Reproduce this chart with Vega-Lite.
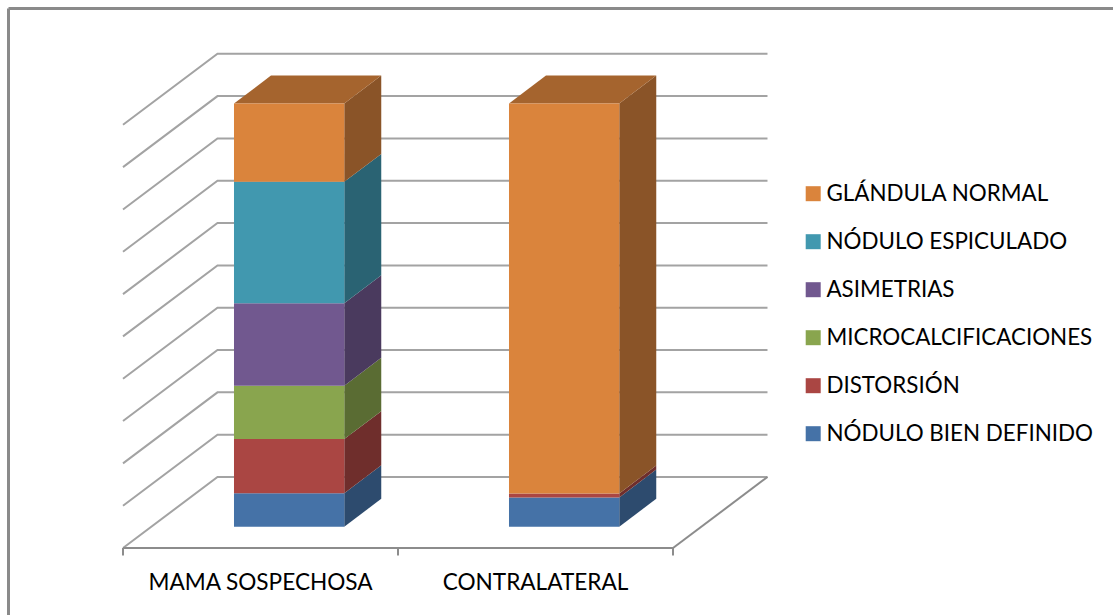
{
  "$schema": "https://vega.github.io/schema/vega-lite/v6.json",
  "width": 1105,
  "height": 607,
  "autosize": "none",
  "padding": {"left": 8, "top": 8, "right": 0, "bottom": 0},
  "background": "white",
  "config": {
    "view": {"stroke": null},
    "font": "Lato",
    "axis": {"labels": false, "ticks": false, "grid": false, "domain": true, "domainColor": "#8a8a8a", "domainWidth": 3}
  },
  "datasets": {
    "barras": [
      {"categoria": "MAMA SOSPECHOSA", "pos": 0, "orden": 1, "serie": "NÓDULO BIEN DEFINIDO", "valor": 7.9},
      {"categoria": "MAMA SOSPECHOSA", "pos": 0, "orden": 2, "serie": "DISTORSIÓN", "valor": 12.8},
      {"categoria": "MAMA SOSPECHOSA", "pos": 0, "orden": 3, "serie": "MICROCALCIFICACIONES", "valor": 12.6},
      {"categoria": "MAMA SOSPECHOSA", "pos": 0, "orden": 4, "serie": "ASIMETRIAS", "valor": 19.5},
      {"categoria": "MAMA SOSPECHOSA", "pos": 0, "orden": 5, "serie": "NÓDULO ESPICULADO", "valor": 28.7},
      {"categoria": "MAMA SOSPECHOSA", "pos": 0, "orden": 6, "serie": "GLÁNDULA NORMAL", "valor": 18.5},
      {"categoria": "CONTRALATERAL", "pos": 1, "orden": 1, "serie": "NÓDULO BIEN DEFINIDO", "valor": 6.9},
      {"categoria": "CONTRALATERAL", "pos": 1, "orden": 2, "serie": "DISTORSIÓN", "valor": 0.95},
      {"categoria": "CONTRALATERAL", "pos": 1, "orden": 6, "serie": "GLÁNDULA NORMAL", "valor": 92.15}
    ],
    "rejilla": [
      {"nivel": 0}, {"nivel": 10}, {"nivel": 20}, {"nivel": 30}, {"nivel": 40}, {"nivel": 50},
      {"nivel": 60}, {"nivel": 70}, {"nivel": 80}, {"nivel": 90}, {"nivel": 100}
    ],
    "marcas": [{"pos": 0}, {"pos": 1}, {"pos": 2}],
    "categorias": [
      {"categoria": "MAMA SOSPECHOSA", "pos": 0},
      {"categoria": "CONTRALATERAL", "pos": 1}
    ]
  },
  "resolve": {"scale": {"color": "independent"}},
  "layer": [
    {
      "description": "Walls: each gridline runs along the left wall and then across the back wall",
      "data": {"name": "rejilla"},
      "transform": [
        {"calculate": "[0,1,2]", "as": "e"},
        {"flatten": ["e"]},
        {"calculate": "datum.e === 0 ? 0 : datum.e === 1 ? 0.3436 : 2.3436", "as": "px"},
        {"calculate": "datum.nivel - 5.03 + (datum.e === 0 ? 0 : 16.78)", "as": "py"}
      ],
      "mark": {"type": "line", "color": "#a3a3a3", "strokeWidth": 2, "clip": false},
      "encoding": {
        "x": {"field": "px", "type": "quantitative", "title": null, "axis": {"orient": "top"}, "scale": {"domain": [-0.4182, 3.6], "nice": false, "zero": false}},
        "y": {"field": "py", "type": "quantitative", "title": null, "axis": {"orient": "left"}, "scale": {"domain": [-20.86, 122.57], "nice": false, "zero": false}},
        "detail": {"field": "nivel"},
        "order": {"field": "e"}
      }
    },
    {
      "description": "Front edge of the floor",
      "data": {"name": "marcas"},
      "transform": [{"filter": "datum.pos === 0"}, {"calculate": "datum.pos + 2", "as": "fin"}, {"calculate": "-5.03", "as": "suelo"}],
      "mark": {"type": "rule", "color": "#8c8c8c", "strokeWidth": 2},
      "encoding": {
        "x": {"field": "pos", "type": "quantitative", "title": null, "axis": {"orient": "top"}, "scale": {"domain": [-0.4182, 3.6], "nice": false, "zero": false}},
        "x2": {"field": "fin"},
        "y": {"field": "suelo", "type": "quantitative", "title": null, "axis": {"orient": "left"}, "scale": {"domain": [-20.86, 122.57], "nice": false, "zero": false}}
      }
    },
    {
      "description": "Right edge of the floor, front corner to back corner",
      "data": {"name": "marcas"},
      "transform": [
        {"filter": "datum.pos === 2"},
        {"calculate": "datum.pos + 0.3436", "as": "fin"},
        {"calculate": "-5.03", "as": "suelo"},
        {"calculate": "11.75", "as": "fondo"}
      ],
      "mark": {"type": "rule", "color": "#8c8c8c", "strokeWidth": 2},
      "encoding": {
        "x": {"field": "pos", "type": "quantitative", "title": null, "axis": {"orient": "top"}, "scale": {"domain": [-0.4182, 3.6], "nice": false, "zero": false}},
        "x2": {"field": "fin"},
        "y": {"field": "suelo", "type": "quantitative", "title": null, "axis": {"orient": "left"}, "scale": {"domain": [-20.86, 122.57], "nice": false, "zero": false}},
        "y2": {"field": "fondo"}
      }
    },
    {
      "description": "Category tick marks under the floor",
      "data": {"name": "marcas"},
      "transform": [{"calculate": "-5.03", "as": "suelo"}, {"calculate": "-6.8", "as": "pie"}],
      "mark": {"type": "rule", "color": "#8c8c8c", "strokeWidth": 2},
      "encoding": {
        "x": {"field": "pos", "type": "quantitative", "title": null, "axis": {"orient": "top"}, "scale": {"domain": [-0.4182, 3.6], "nice": false, "zero": false}},
        "y": {"field": "suelo", "type": "quantitative", "title": null, "axis": {"orient": "left"}, "scale": {"domain": [-20.86, 122.57], "nice": false, "zero": false}},
        "y2": {"field": "pie"}
      }
    },
    {
      "description": "Right-hand side faces of the stacked columns",
      "data": {"name": "barras"},
      "transform": [
        {"stack": "valor", "groupby": ["categoria"], "sort": [{"field": "orden", "order": "ascending"}], "as": ["v0", "v1"]},
        {"calculate": "[0,1]", "as": "e"},
        {"flatten": ["e"]},
        {"calculate": "datum.pos + 0.8046 + datum.e * 0.1345", "as": "px"},
        {"calculate": "datum.v1 + datum.e * 6.6", "as": "alto"},
        {"calculate": "datum.v0 + datum.e * 6.6", "as": "bajo"}
      ],
      "mark": {"type": "area", "orient": "vertical"},
      "encoding": {
        "x": {"field": "px", "type": "quantitative", "title": null, "axis": {"orient": "top"}, "scale": {"domain": [-0.4182, 3.6], "nice": false, "zero": false}},
        "y": {"field": "alto", "type": "quantitative", "stack": null, "title": null, "axis": {"orient": "left"}, "scale": {"domain": [-20.86, 122.57], "nice": false, "zero": false}},
        "y2": {"field": "bajo"},
        "detail": {"field": "categoria"},
        "color": {
          "field": "serie",
          "type": "nominal",
          "legend": null,
          "scale": {
            "domain": ["GLÁNDULA NORMAL", "NÓDULO ESPICULADO", "ASIMETRIAS", "MICROCALCIFICACIONES", "DISTORSIÓN", "NÓDULO BIEN DEFINIDO"],
            "range": ["#8A5428", "#2A6373", "#4A3A5E", "#5A6C33", "#6F2E2C", "#2D4B6E"]
          }
        }
      }
    },
    {
      "description": "Top faces of the columns",
      "data": {"name": "barras"},
      "transform": [
        {"stack": "valor", "groupby": ["categoria"], "sort": [{"field": "orden", "order": "ascending"}], "as": ["v0", "v1"]},
        {"filter": "datum.orden === 6"},
        {"calculate": "[0,1,2,3]", "as": "paso"},
        {"flatten": ["paso"]},
        {"calculate": "datum.pos + 0.4036 + (datum.paso === 0 ? 0 : datum.paso === 1 ? 0.1345 : datum.paso === 2 ? 0.401 : 0.5355)", "as": "tx"},
        {"calculate": "datum.paso === 3 ? datum.v1 + 6.6 : datum.v1", "as": "tbajo"},
        {"calculate": "datum.paso === 0 ? datum.v1 : datum.v1 + 6.6", "as": "talto"}
      ],
      "mark": {"type": "area", "orient": "vertical", "fill": "#A5642E"},
      "encoding": {
        "x": {"field": "tx", "type": "quantitative", "title": null, "axis": {"orient": "top"}, "scale": {"domain": [-0.4182, 3.6], "nice": false, "zero": false}},
        "y": {"field": "talto", "type": "quantitative", "stack": null, "title": null, "axis": {"orient": "left"}, "scale": {"domain": [-20.86, 122.57], "nice": false, "zero": false}},
        "y2": {"field": "tbajo"},
        "detail": {"field": "categoria"}
      }
    },
    {
      "description": "Front faces of the stacked columns, with the legend",
      "data": {"name": "barras"},
      "transform": [
        {"stack": "valor", "groupby": ["categoria"], "sort": [{"field": "orden", "order": "ascending"}], "as": ["v0", "v1"]},
        {"calculate": "datum.pos + 0.4036", "as": "xa"},
        {"calculate": "datum.pos + 0.8046", "as": "xb"}
      ],
      "mark": {"type": "rect"},
      "encoding": {
        "x": {"field": "xa", "type": "quantitative", "title": null, "axis": {"orient": "top"}, "scale": {"domain": [-0.4182, 3.6], "nice": false, "zero": false}},
        "x2": {"field": "xb"},
        "y": {"field": "v0", "type": "quantitative", "stack": null, "title": null, "axis": {"orient": "left"}, "scale": {"domain": [-20.86, 122.57], "nice": false, "zero": false}},
        "y2": {"field": "v1"},
        "color": {
          "field": "serie",
          "type": "nominal",
          "scale": {
            "domain": ["GLÁNDULA NORMAL", "NÓDULO ESPICULADO", "ASIMETRIAS", "MICROCALCIFICACIONES", "DISTORSIÓN", "NÓDULO BIEN DEFINIDO"],
            "range": ["#DA843C", "#4198AF", "#71588F", "#89A54E", "#AA4643", "#4572A7"]
          },
          "legend": {
            "title": null,
            "orient": "none",
            "legendX": 794,
            "legendY": 174.5,
            "symbolType": "square",
            "symbolSize": 225,
            "symbolStrokeWidth": 0,
            "symbolOpacity": 1,
            "labelFont": "Lato",
            "labelFontSize": 22.4,
            "labelColor": "#000000",
            "labelOffset": 2,
            "labelLimit": 320,
            "rowPadding": 25
          }
        }
      }
    },
    {
      "description": "Category names below the floor",
      "data": {"name": "categorias"},
      "transform": [{"calculate": "datum.pos + 0.5", "as": "centro"}, {"calculate": "-13.3", "as": "linea"}],
      "mark": {"type": "text", "font": "Lato", "fontSize": 22.6, "color": "#000000", "align": "center", "baseline": "middle"},
      "encoding": {
        "x": {"field": "centro", "type": "quantitative", "title": null, "axis": {"orient": "top"}, "scale": {"domain": [-0.4182, 3.6], "nice": false, "zero": false}},
        "y": {"field": "linea", "type": "quantitative", "title": null, "axis": {"orient": "left"}, "scale": {"domain": [-20.86, 122.57], "nice": false, "zero": false}},
        "text": {"field": "categoria", "type": "nominal"}
      }
    }
  ]
}
